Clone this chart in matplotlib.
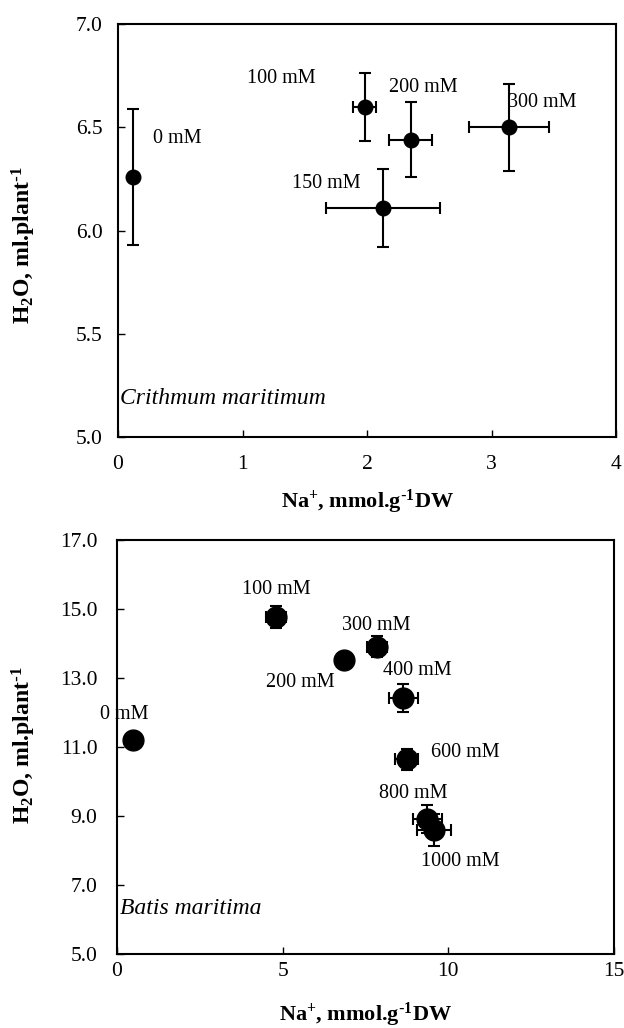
import matplotlib
matplotlib.use('Agg')
import matplotlib.pyplot as plt
import matplotlib.ticker as ticker

plt.rcParams['font.family'] = ['Liberation Serif', 'DejaVu Serif']
plt.rcParams['mathtext.default'] = 'regular'

# Crithmum maritimum
crith_labels = ['0 mM', '100 mM', '150 mM', '200 mM', '300 mM']
crith_na = [0.12, 1.98, 2.13, 2.35, 3.14]
crith_na_err = [0.0, 0.095, 0.46, 0.17, 0.32]
crith_h2o = [6.26, 6.60, 6.11, 6.44, 6.50]
crith_h2o_err = [0.33, 0.165, 0.19, 0.18, 0.21]

# Batis maritima
batis_labels = ['0 mM', '100 mM', '200 mM', '300 mM', '400 mM', '600 mM', '800 mM', '1000 mM']
batis_na = [0.49, 4.80, 6.86, 7.86, 8.64, 8.74, 9.36, 9.56]
batis_na_err = [0.0, 0.30, 0.20, 0.30, 0.43, 0.34, 0.44, 0.52]
batis_h2o = [11.21, 14.78, 13.53, 13.91, 12.42, 10.64, 8.92, 8.59]
batis_h2o_err = [0.0, 0.32, 0.15, 0.30, 0.40, 0.30, 0.41, 0.46]

# label offsets in points from each marker
crith_offs = [(14.6, 27.9), (-84.7, 20.4), (-66, 17.8), (-15.6, 37.2), (-0.9, 17.8)]
batis_offs = [(-24, 18), (-24.7, 19.2), (-56.6, -16.3), (-25.6, 14.9),
              (-14.4, 19.9), (17.3, 5.3), (-34.8, 18), (-8.9, -22.8)]

xlab = 'Na$^{+}$, mmol.g$^{\\text{-}1}$DW'
ylab = 'H$_2$O, ml.plant$^{\\text{-}1}$'

W, H = 624, 1028
fig = plt.figure(figsize=(W / 100, H / 100), dpi=100)
ax1 = fig.add_axes([118 / W, 1 - 437 / H, 498 / W, 413 / H])
ax2 = fig.add_axes([117 / W, 1 - 954 / H, 497 / W, 414 / H])


def style(ax, xpad, ypad):
    for s in ax.spines.values():
        s.set_linewidth(1.5)
    ax.tick_params(direction='in', length=5, width=1, labelsize=15.5)
    ax.tick_params(axis='x', pad=xpad)
    ax.tick_params(axis='y', pad=ypad)
    ax.tick_params(top=False, right=False)
    ax.yaxis.set_major_formatter(ticker.FormatStrFormatter('%.1f'))


ax1.errorbar(crith_na, crith_h2o, xerr=crith_na_err, yerr=crith_h2o_err,
             fmt='o', color='black', markersize=10.5, elinewidth=1.5,
             capsize=4, capthick=1.5)
for lab, x, y, off in zip(crith_labels, crith_na, crith_h2o, crith_offs):
    ax1.annotate(lab, (x, y), xytext=off, textcoords='offset points',
                 ha='left', va='center', fontsize=14.5)
ax1.set_xlim(0, 4)
ax1.set_ylim(5.0, 7.0)
ax1.set_xticks([0, 1, 2, 3, 4])
ax1.set_yticks([5.0, 5.5, 6.0, 6.5, 7.0])
style(ax1, 13, 11)
ax1.text(0.004, 0.094, 'Crithmum maritimum', transform=ax1.transAxes,
         fontsize=17, style='italic', ha='left', va='center')
ax1.set_xlabel(xlab, fontsize=16, fontweight='bold', va='top')
ax1.xaxis.set_label_coords(0.5, -0.123)
ax1.set_ylabel(ylab, fontsize=17, fontweight='bold')
ax1.yaxis.set_label_coords(-0.161, 0.464)

ax2.errorbar(batis_na, batis_h2o, xerr=batis_na_err, yerr=batis_h2o_err,
             fmt='o', color='black', markersize=15, elinewidth=1.5,
             capsize=4, capthick=1.5)
for lab, x, y, off in zip(batis_labels, batis_na, batis_h2o, batis_offs):
    ax2.annotate(lab, (x, y), xytext=off, textcoords='offset points',
                 ha='left', va='center', fontsize=14.5)
ax2.set_xlim(0, 15)
ax2.set_ylim(5.0, 17.0)
ax2.set_xticks([0, 5, 10, 15])
ax2.set_yticks([5.0, 7.0, 9.0, 11.0, 13.0, 15.0, 17.0])
style(ax2, 6, 14)
ax2.text(0.006, 0.111, 'Batis maritima', transform=ax2.transAxes,
         fontsize=17, style='italic', ha='left', va='center')
ax2.set_xlabel(xlab, fontsize=16, fontweight='bold', va='top')
ax2.xaxis.set_label_coords(0.5, -0.113)
ax2.set_ylabel(ylab, fontsize=17, fontweight='bold')
ax2.yaxis.set_label_coords(-0.159, 0.505)

fig.savefig('out.png', dpi=100)
